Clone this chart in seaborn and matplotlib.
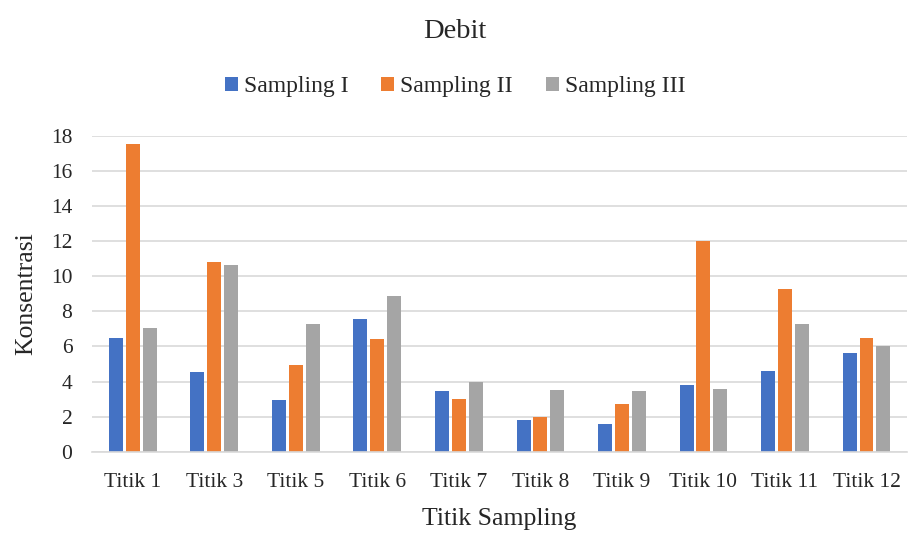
import matplotlib
matplotlib.use("Agg")
import matplotlib.pyplot as plt
import pandas as pd
import seaborn as sns

# Flow-rate ("Debit") readings per sampling point for three sampling rounds
titik = ["Titik 1", "Titik 3", "Titik 5", "Titik 6", "Titik 7",
         "Titik 8", "Titik 9", "Titik 10", "Titik 11", "Titik 12"]
sampling_1 = [6.5, 4.55, 2.95, 7.55, 3.45, 1.8, 1.6, 3.8, 4.6, 5.65]
sampling_2 = [17.5, 10.8, 4.95, 6.4, 3.0, 2.0, 2.7, 12.0, 9.25, 6.45]
sampling_3 = [7.05, 10.65, 7.3, 8.85, 3.95, 3.5, 3.45, 3.6, 7.3, 6.05]
series_names = ["Sampling I", "Sampling II", "Sampling III"]
y_ticks = [0, 2, 4, 6, 8, 10, 12, 14, 16, 18]

df = pd.DataFrame({
    "Titik": titik * 3,
    "Sampling": [series_names[0]] * len(titik)
                + [series_names[1]] * len(titik)
                + [series_names[2]] * len(titik),
    "Nilai": sampling_1 + sampling_2 + sampling_3,
})

sns.set_theme(style="white")
plt.rcParams["font.family"] = ["Liberation Serif", "DejaVu Serif"]

fig = plt.figure(figsize=(9.1, 5.34), dpi=100)
ax = fig.add_axes([0.101, 0.154, 0.896, 0.592])

palette = ["#4472C4", "#ED7D31", "#A5A5A5"]
sns.barplot(data=df, x="Titik", y="Nilai", hue="Sampling", order=titik,
            hue_order=series_names, palette=palette, width=0.62, gap=0.17,
            saturation=1, linewidth=0, ax=ax, legend=True)

ax.set_ylim(0, 18)
ax.set_yticks(y_ticks)
ax.set_xlim(-0.5, len(titik) - 0.5)
ax.yaxis.grid(True, color="#d9d9d9", linewidth=1.2)
ax.set_axisbelow(True)
for side in ["top", "right", "left"]:
    ax.spines[side].set_visible(False)
ax.spines["bottom"].set_color("#d9d9d9")
ax.spines["bottom"].set_linewidth(1.2)
ax.tick_params(axis="both", length=0, labelsize=15.5, colors="#262626")
ax.tick_params(axis="x", pad=15)
ax.tick_params(axis="y", pad=14)

ax.set_xlabel("Titik Sampling", fontsize=18.5, color="#262626", labelpad=12)
ax.set_ylabel("Konsentrasi", fontsize=18.5, color="#262626", labelpad=10)

fig.suptitle("Debit", x=0.5, y=0.965, fontsize=20.5, color="#262626")

handles, labels = ax.get_legend_handles_labels()
ax.legend_.remove()
fig.legend(handles, labels, loc="center", bbox_to_anchor=(0.5, 0.838),
           ncol=3, frameon=False, fontsize=17, handlelength=0.55,
           handleheight=0.55, handletextpad=0.25, columnspacing=1.4,
           labelcolor="#262626")

fig.savefig("out.png", dpi=100, facecolor="white")
